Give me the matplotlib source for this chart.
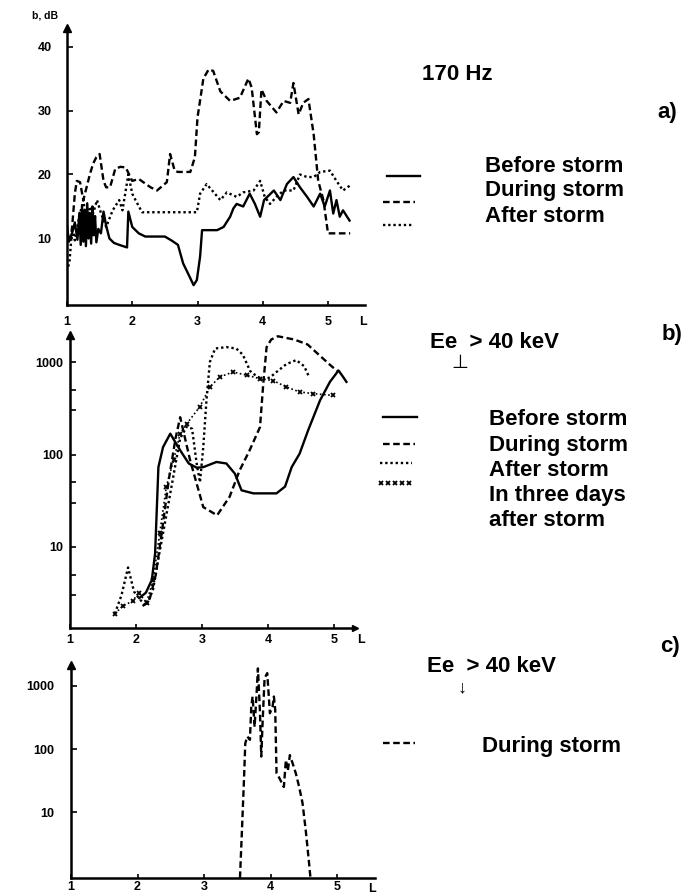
import numpy as np
import matplotlib
matplotlib.use("Agg")
import matplotlib.pyplot as plt
from matplotlib.lines import Line2D
from matplotlib.ticker import LogLocator, FixedLocator, NullFormatter, NullLocator

plt.rcParams['font.family'] = ['Liberation Sans', 'DejaVu Sans']
plt.rcParams['font.weight'] = 'bold'

# a) 170 Hz noise level, dB
a_before_L = [1.00, 1.03, 1.07, 1.12, 1.16, 1.19, 1.21, 1.23, 1.25, 1.27, 1.29, 1.31, 1.33, 1.35, 1.37,
              1.39, 1.41, 1.43, 1.45, 1.48, 1.52, 1.56, 1.6, 1.65, 1.72, 1.8, 1.92, 1.94, 2.0, 2.1,
              2.2, 2.5, 2.6, 2.7, 2.78, 2.88, 2.94, 2.99, 3.04, 3.07, 3.3, 3.4, 3.5, 3.55, 3.6,
              3.7, 3.8, 3.88, 3.96, 4.02, 4.17, 4.27, 4.37, 4.47, 4.57, 4.68, 4.78, 4.88, 4.95, 5.03,
              5.08, 5.13, 5.18, 5.23, 5.33]
a_before_db = [12, 9.5, 10.5, 12.5, 9.8, 14, 9, 15, 9.5, 14.5, 8.8, 15.5, 10, 14, 9.2,
               15, 10.5, 13.5, 9.4, 11.5, 10.8, 14.2, 12, 10, 9.3, 9, 8.6, 14.2, 11.8, 10.8,
               10.3, 10.3, 9.7, 9, 6.1, 4, 2.7, 3.5, 7.2, 11.3, 11.3, 11.8, 13.4, 14.7, 15.4,
               15, 17, 15.4, 13.4, 16, 17.5, 16, 18.5, 19.6, 18, 16.5, 15, 17, 15, 17.5,
               13.9, 16, 13.4, 14.4, 12.8]

a_during_L = [1.02, 1.07, 1.12, 1.15, 1.2, 1.25, 1.3, 1.35, 1.4, 1.45, 1.5, 1.56, 1.6, 1.66, 1.74,
              1.82, 1.9, 2.0, 2.1, 2.28, 2.38, 2.53, 2.58, 2.65, 2.7, 2.89, 2.96, 3.0, 3.09, 3.17,
              3.24, 3.35, 3.5, 3.65, 3.78, 3.83, 3.91, 3.94, 3.98, 4.06, 4.21, 4.32, 4.42, 4.47, 4.55,
              4.62, 4.7, 4.78, 4.85, 4.93, 5.0, 5.34]
a_during_db = [9.5, 10.8, 17, 19, 18.8, 16, 18, 20, 21.7, 22.7, 23.2, 19, 18, 18, 20.9,
               21.2, 21.1, 19, 19.3, 18, 17.5, 18.8, 23.2, 20.6, 20.4, 20.4, 22.7, 28.9, 35, 36.4,
               36.2, 33, 31.5, 32, 35, 33.6, 26.3, 26.6, 33.3, 31.5, 29.7, 31.5, 31.2, 34.3, 29.4,
               31.2, 31.8, 26.3, 19, 16, 10.8, 10.8]

a_after_L = [1.02, 1.04, 1.08, 1.12, 1.18, 1.25, 1.3, 1.35, 1.4, 1.46, 1.52, 1.6, 1.7, 1.8, 1.85,
             1.94, 2.0, 2.05, 2.15, 2.99, 3.04, 3.14, 3.25, 3.35, 3.45, 3.6, 3.7, 3.86, 3.96, 4.03,
             4.11, 4.21, 4.32, 4.47, 4.57, 4.68, 4.78, 4.88, 5.03, 5.13, 5.23, 5.34]
a_after_db = [5.6, 6.6, 11.8, 9.7, 13, 16, 12.5, 15, 13.9, 16, 14, 11.8, 14.4, 16, 14.4,
              20, 17, 16, 14.1, 14.1, 17, 18.5, 17.2, 16, 17.2, 16.5, 17.2, 17.5, 19, 16.5,
              15.4, 16.5, 17.5, 17.5, 20, 19.6, 19.6, 20.4, 20.6, 19, 17.5, 18.3]

# b) trapped electrons Ee > 40 keV
b_before_L = [2.05, 2.15, 2.24, 2.29, 2.34, 2.41, 2.52, 2.67, 2.8, 2.92, 3.02, 3.22, 3.37, 3.5, 3.6,
              3.78, 4.13, 4.26, 4.36, 4.48, 4.61, 4.79, 4.94, 5.07, 5.14, 5.19]
b_before = [2.8, 3.2, 4.4, 8.5, 73, 120, 168, 111, 80, 72, 73, 83, 80, 62, 41,
            38, 38, 45, 73, 102, 183, 385, 610, 810, 690, 610]

b_during_L = [2.1, 2.2, 2.3, 2.4, 2.5, 2.6, 2.67, 2.82, 3.02, 3.23, 3.42, 3.57, 3.72, 3.88, 3.93,
              3.98, 4.05, 4.15, 4.4, 4.6, 4.8, 4.95, 5.05]
b_during = [2.3, 2.6, 5, 16, 55, 150, 253, 87, 27, 22, 35, 67, 110, 198, 590,
            1450, 1750, 1900, 1750, 1550, 1150, 920, 800]

b_after_L = [1.68, 1.78, 1.88, 1.97, 2.06, 2.16, 2.26, 2.36, 2.46, 2.57, 2.67, 2.77, 2.85, 2.92, 2.97,
             3.02, 3.07, 3.12, 3.2, 3.37, 3.52, 3.62, 3.73, 3.83, 3.93, 4.03, 4.13, 4.28, 4.43, 4.55,
             4.62]
b_after = [1.9, 3.0, 6.0, 3.3, 2.7, 2.3, 3.5, 9, 22, 60, 150, 200, 190, 80, 50,
           120, 400, 1000, 1400, 1450, 1400, 1200, 800, 700, 650, 680, 780, 950, 1050, 900,
           700]

b_three_L = [1.68, 1.8, 1.95, 2.04, 2.16, 2.26, 2.36, 2.46, 2.57, 2.67, 2.77, 2.97, 3.12, 3.27, 3.47,
             3.68, 3.88, 4.08, 4.28, 4.48, 4.69, 4.99]
b_three = [1.9, 2.3, 2.6, 3.2, 2.5, 4.4, 14, 45, 87, 168, 215, 330, 537, 690, 780,
           720, 660, 630, 537, 475, 455, 435]

# c) precipitating electrons Ee > 40 keV
c_L = [3.54, 3.57, 3.6, 3.62, 3.65, 3.69, 3.71, 3.73, 3.76, 3.79, 3.81, 3.84, 3.86, 3.88, 3.91,
       3.95, 3.99, 4.03, 4.05, 4.07, 4.09, 4.13, 4.2, 4.23, 4.26, 4.29, 4.33, 4.38, 4.43, 4.48,
       4.53, 4.58, 4.6]
c_during = [0.9, 5.2, 32, 123, 158, 140, 470, 680, 225, 760, 1900, 400, 76, 260, 1320,
            1600, 370, 470, 680, 420, 41, 35, 25, 67, 45, 80, 60, 41, 25, 14,
            5, 1.5, 0.9]

x_ticks = [1, 2, 3, 4, 5]
a_yticks = [10, 20, 30, 40]
log_yticks = [10, 100, 1000]

W, H = 683, 896
fig = plt.figure(figsize=(W / 100, H / 100), dpi=100)


def box(x0, y0, x1, y1):
    return [x0 / W, 1 - y1 / H, (x1 - x0) / W, (y1 - y0) / H]


SOLID = dict(color='k', lw=1.7, ls='-')
DASHED = dict(color='k', lw=1.7, ls=(0, (2.8, 1.5)))
DOTTED = dict(color='k', lw=1.7, ls=(0, (1, 1.2)))
CROSSES = dict(color='k', lw=1.2, ls=(0, (1, 1.5)), marker='x', ms=3.5, mew=1.3)


def style(ax, ypad, xpad, xarrow=False):
    for s in ('top', 'right'):
        ax.spines[s].set_visible(False)
    for s in ('left', 'bottom'):
        ax.spines[s].set_linewidth(1.8)
    ax.tick_params(which='both', direction='in', length=4, width=1.2, labelsize=9)
    ax.tick_params(axis='y', pad=ypad)
    ax.tick_params(axis='x', pad=xpad, length=3)
    ax.set_xticks(x_ticks)
    ax.set_xticklabels([str(t) for t in x_ticks])
    ax.plot([0], [1], marker='^', color='k', ms=6, transform=ax.transAxes, clip_on=False)
    if xarrow:
        ax.plot([1], [0], marker='>', color='k', ms=4, transform=ax.transAxes, clip_on=False)


# panel a
ax = fig.add_axes(box(67, 28, 365, 305))
ax.plot(a_before_L, a_before_db, **SOLID)
ax.plot(a_during_L, a_during_db, **DASHED)
ax.plot(a_after_L, a_after_db, **DOTTED)
ax.set_xlim(1, 5.567)
ax.set_ylim(-0.4, 42.9)
ax.set_yticks(a_yticks)
ax.set_yticklabels([str(t) for t in a_yticks])
style(ax, ypad=11, xpad=8)

# panel b
ax = fig.add_axes(box(70, 335, 355, 628))
ax.plot(b_before_L, b_before, **SOLID)
ax.plot(b_during_L, b_during, **DASHED)
ax.plot(b_after_L, b_after, **DOTTED)
ax.plot(b_three_L, b_three, **CROSSES)
ax.set_yscale('log')
ax.set_xlim(1, 5.32)
ax.set_ylim(1.33, 1960)
ax.yaxis.set_major_locator(FixedLocator(log_yticks))
ax.set_yticklabels([str(t) for t in log_yticks])
ax.yaxis.set_minor_locator(LogLocator(subs=(3, 5)))
ax.yaxis.set_minor_formatter(NullFormatter())
style(ax, ypad=5, xpad=4, xarrow=True)

# panel c
ax = fig.add_axes(box(71, 665, 375, 878))
ax.plot(c_L, c_during, **DASHED)
ax.set_yscale('log')
ax.set_xlim(1, 5.57)
ax.set_ylim(0.9, 2150)
ax.yaxis.set_major_locator(FixedLocator(log_yticks))
ax.set_yticklabels([str(t) for t in log_yticks])
ax.yaxis.set_minor_locator(NullLocator())
style(ax, ypad=12, xpad=2)


def text(x, y, s, size=16, **kw):
    kw.setdefault('va', 'baseline')
    kw.setdefault('fontweight', 'bold')
    fig.text(x / W, 1 - y / H, s, fontsize=size, **kw)


def key(x0, x1, y, style):
    fig.add_artist(Line2D([x0 / W, x1 / W], [1 - y / H] * 2, transform=fig.transFigure, **style))


def cross_key(x0, x1, y):
    xs = np.linspace(x0, x1, 5) / W
    fig.add_artist(Line2D(xs, [1 - y / H] * len(xs), transform=fig.transFigure,
                          color='k', ls='none', marker='x', ms=3.5, mew=1.3))


# axis titles
text(32, 18, 'b, dB', size=7.5)
for x, y in ((363, 322), (361, 640), (372, 889)):
    text(x, y, 'L', size=9, ha='center', va='center')

# panel a annotations
text(422, 80, '170 Hz')
text(657, 118, 'a)')
key(387, 420, 176, SOLID)
key(383, 415, 202, DASHED)
key(383, 413, 225, DOTTED)
for y, s in ((172, 'Before storm'), (196, 'During storm'), (222, 'After storm')):
    text(485, y, s)

# panel b annotations
text(430, 348, 'Ee  > 40 keV')
text(460, 368, '\u22a5', size=14, ha='center', fontweight='normal')
text(662, 340, 'b)')
key(383, 417, 417, SOLID)
key(383, 415, 444, DASHED)
key(380, 412, 463, DOTTED)
cross_key(381, 409, 483)
for y, s in ((425, 'Before storm'), (451, 'During storm'), (476, 'After storm'),
             (501, 'In three days'), (526, 'after storm')):
    text(489, y, s)

# panel c annotations
text(427, 672, 'Ee  > 40 keV')
text(462, 688, '\u2193', size=13, ha='center', va='center', fontweight='normal')
text(660, 652, 'c)')
key(383, 415, 743, DASHED)
text(482, 752, 'During storm')

fig.savefig('out.png', dpi=100)
